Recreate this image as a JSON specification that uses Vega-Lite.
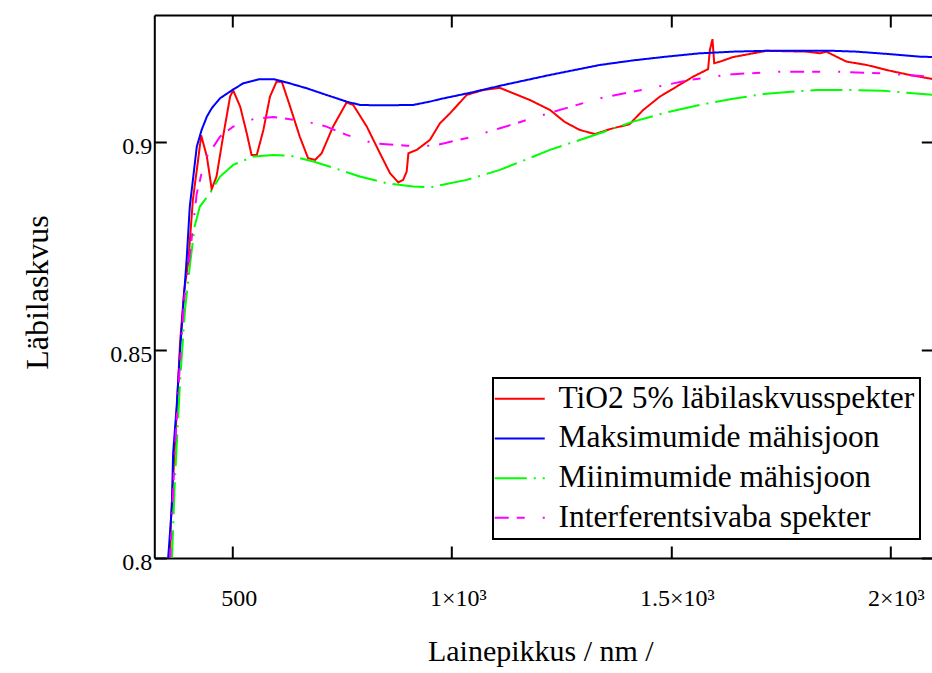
{
  "$schema": "https://vega.github.io/schema/vega-lite/v6.json",
  "width": 779,
  "height": 543,
  "autosize": {"type": "none"},
  "padding": {"left": 154.3, "top": 15, "right": 0, "bottom": 115},
  "background": "white",
  "config": {
    "view": {"stroke": null},
    "font": "Liberation Serif",
    "axis": {
      "grid": false,
      "domainColor": "black",
      "domainWidth": 2,
      "tickColor": "black",
      "tickWidth": 2,
      "tickSize": -12,
      "labelColor": "black",
      "titleColor": "black",
      "labelFont": "Liberation Serif",
      "titleFont": "Liberation Serif",
      "labelFontSize": 24,
      "titleFontWeight": "normal",
      "labelFlush": false,
      "labelOverlap": false
    }
  },
  "data": {
    "values": [
      {"series": "TiO2 5% läbilaskvusspekter", "wl": 357, "T": 0.799},
      {"series": "TiO2 5% läbilaskvusspekter", "wl": 359, "T": 0.809},
      {"series": "TiO2 5% läbilaskvusspekter", "wl": 371, "T": 0.833},
      {"series": "TiO2 5% läbilaskvusspekter", "wl": 380, "T": 0.852},
      {"series": "TiO2 5% läbilaskvusspekter", "wl": 389, "T": 0.864},
      {"series": "TiO2 5% läbilaskvusspekter", "wl": 399, "T": 0.8716},
      {"series": "TiO2 5% läbilaskvusspekter", "wl": 409, "T": 0.886},
      {"series": "TiO2 5% läbilaskvusspekter", "wl": 421, "T": 0.8956},
      {"series": "TiO2 5% läbilaskvusspekter", "wl": 428, "T": 0.9015},
      {"series": "TiO2 5% läbilaskvusspekter", "wl": 441, "T": 0.8964},
      {"series": "TiO2 5% läbilaskvusspekter", "wl": 452, "T": 0.8886},
      {"series": "TiO2 5% läbilaskvusspekter", "wl": 463, "T": 0.8916},
      {"series": "TiO2 5% läbilaskvusspekter", "wl": 478, "T": 0.9012},
      {"series": "TiO2 5% läbilaskvusspekter", "wl": 494, "T": 0.9108},
      {"series": "TiO2 5% läbilaskvusspekter", "wl": 501, "T": 0.9123},
      {"series": "TiO2 5% läbilaskvusspekter", "wl": 517, "T": 0.9084},
      {"series": "TiO2 5% läbilaskvusspekter", "wl": 532, "T": 0.902},
      {"series": "TiO2 5% läbilaskvusspekter", "wl": 543, "T": 0.8968},
      {"series": "TiO2 5% läbilaskvusspekter", "wl": 555, "T": 0.8968},
      {"series": "TiO2 5% läbilaskvusspekter", "wl": 570, "T": 0.9028},
      {"series": "TiO2 5% läbilaskvusspekter", "wl": 585, "T": 0.9108},
      {"series": "TiO2 5% läbilaskvusspekter", "wl": 600, "T": 0.9144},
      {"series": "TiO2 5% läbilaskvusspekter", "wl": 612, "T": 0.9144},
      {"series": "TiO2 5% läbilaskvusspekter", "wl": 631, "T": 0.9084},
      {"series": "TiO2 5% läbilaskvusspekter", "wl": 653, "T": 0.9012},
      {"series": "TiO2 5% läbilaskvusspekter", "wl": 672, "T": 0.896},
      {"series": "TiO2 5% läbilaskvusspekter", "wl": 688, "T": 0.8956},
      {"series": "TiO2 5% läbilaskvusspekter", "wl": 703, "T": 0.8972},
      {"series": "TiO2 5% läbilaskvusspekter", "wl": 729, "T": 0.9036},
      {"series": "TiO2 5% läbilaskvusspekter", "wl": 760, "T": 0.9094},
      {"series": "TiO2 5% läbilaskvusspekter", "wl": 775, "T": 0.9088},
      {"series": "TiO2 5% läbilaskvusspekter", "wl": 806, "T": 0.9036},
      {"series": "TiO2 5% läbilaskvusspekter", "wl": 836, "T": 0.8972},
      {"series": "TiO2 5% läbilaskvusspekter", "wl": 859, "T": 0.8924},
      {"series": "TiO2 5% läbilaskvusspekter", "wl": 878, "T": 0.8902},
      {"series": "TiO2 5% läbilaskvusspekter", "wl": 889, "T": 0.8908},
      {"series": "TiO2 5% läbilaskvusspekter", "wl": 897, "T": 0.8928},
      {"series": "TiO2 5% läbilaskvusspekter", "wl": 901, "T": 0.8972},
      {"series": "TiO2 5% läbilaskvusspekter", "wl": 920, "T": 0.898},
      {"series": "TiO2 5% läbilaskvusspekter", "wl": 950, "T": 0.9004},
      {"series": "TiO2 5% läbilaskvusspekter", "wl": 973, "T": 0.9044},
      {"series": "TiO2 5% läbilaskvusspekter", "wl": 996, "T": 0.9068},
      {"series": "TiO2 5% läbilaskvusspekter", "wl": 1034, "T": 0.9112},
      {"series": "TiO2 5% läbilaskvusspekter", "wl": 1072, "T": 0.9124},
      {"series": "TiO2 5% läbilaskvusspekter", "wl": 1110, "T": 0.9129},
      {"series": "TiO2 5% läbilaskvusspekter", "wl": 1133, "T": 0.9119},
      {"series": "TiO2 5% läbilaskvusspekter", "wl": 1178, "T": 0.91},
      {"series": "TiO2 5% läbilaskvusspekter", "wl": 1224, "T": 0.9076},
      {"series": "TiO2 5% läbilaskvusspekter", "wl": 1258, "T": 0.9047},
      {"series": "TiO2 5% läbilaskvusspekter", "wl": 1292, "T": 0.9028},
      {"series": "TiO2 5% läbilaskvusspekter", "wl": 1327, "T": 0.9018},
      {"series": "TiO2 5% läbilaskvusspekter", "wl": 1361, "T": 0.903},
      {"series": "TiO2 5% läbilaskvusspekter", "wl": 1406, "T": 0.9042},
      {"series": "TiO2 5% läbilaskvusspekter", "wl": 1437, "T": 0.9076},
      {"series": "TiO2 5% läbilaskvusspekter", "wl": 1475, "T": 0.9108},
      {"series": "TiO2 5% läbilaskvusspekter", "wl": 1513, "T": 0.9132},
      {"series": "TiO2 5% läbilaskvusspekter", "wl": 1551, "T": 0.9156},
      {"series": "TiO2 5% läbilaskvusspekter", "wl": 1585, "T": 0.9174},
      {"series": "TiO2 5% läbilaskvusspekter", "wl": 1589, "T": 0.922},
      {"series": "TiO2 5% läbilaskvusspekter", "wl": 1595, "T": 0.9246},
      {"series": "TiO2 5% läbilaskvusspekter", "wl": 1599, "T": 0.9188},
      {"series": "TiO2 5% läbilaskvusspekter", "wl": 1612, "T": 0.9192},
      {"series": "TiO2 5% läbilaskvusspekter", "wl": 1642, "T": 0.9203},
      {"series": "TiO2 5% läbilaskvusspekter", "wl": 1688, "T": 0.9212},
      {"series": "TiO2 5% läbilaskvusspekter", "wl": 1718, "T": 0.9218},
      {"series": "TiO2 5% läbilaskvusspekter", "wl": 1810, "T": 0.9216},
      {"series": "TiO2 5% läbilaskvusspekter", "wl": 1840, "T": 0.9212},
      {"series": "TiO2 5% läbilaskvusspekter", "wl": 1855, "T": 0.9216},
      {"series": "TiO2 5% läbilaskvusspekter", "wl": 1870, "T": 0.9208},
      {"series": "TiO2 5% läbilaskvusspekter", "wl": 1901, "T": 0.9192},
      {"series": "TiO2 5% läbilaskvusspekter", "wl": 1947, "T": 0.9184},
      {"series": "TiO2 5% läbilaskvusspekter", "wl": 1992, "T": 0.9172},
      {"series": "TiO2 5% läbilaskvusspekter", "wl": 2045, "T": 0.916},
      {"series": "TiO2 5% läbilaskvusspekter", "wl": 2099, "T": 0.915},

      {"series": "Maksimumide mähisjoon", "wl": 352, "T": 0.799},
      {"series": "Maksimumide mähisjoon", "wl": 361, "T": 0.8123},
      {"series": "Maksimumide mähisjoon", "wl": 364, "T": 0.8252},
      {"series": "Maksimumide mähisjoon", "wl": 372, "T": 0.8363},
      {"series": "Maksimumide mähisjoon", "wl": 380, "T": 0.85},
      {"series": "Maksimumide mähisjoon", "wl": 387, "T": 0.8604},
      {"series": "Maksimumide mähisjoon", "wl": 395, "T": 0.872},
      {"series": "Maksimumide mähisjoon", "wl": 402, "T": 0.8844},
      {"series": "Maksimumide mähisjoon", "wl": 410, "T": 0.8916},
      {"series": "Maksimumide mähisjoon", "wl": 418, "T": 0.8988},
      {"series": "Maksimumide mähisjoon", "wl": 429, "T": 0.9028},
      {"series": "Maksimumide mähisjoon", "wl": 441, "T": 0.906},
      {"series": "Maksimumide mähisjoon", "wl": 452, "T": 0.908},
      {"series": "Maksimumide mähisjoon", "wl": 471, "T": 0.9104},
      {"series": "Maksimumide mähisjoon", "wl": 498, "T": 0.9123},
      {"series": "Maksimumide mähisjoon", "wl": 524, "T": 0.914},
      {"series": "Maksimumide mähisjoon", "wl": 562, "T": 0.915},
      {"series": "Maksimumide mähisjoon", "wl": 593, "T": 0.915},
      {"series": "Maksimumide mähisjoon", "wl": 623, "T": 0.9142},
      {"series": "Maksimumide mähisjoon", "wl": 669, "T": 0.9128},
      {"series": "Maksimumide mähisjoon", "wl": 714, "T": 0.9112},
      {"series": "Maksimumide mähisjoon", "wl": 760, "T": 0.9096},
      {"series": "Maksimumide mähisjoon", "wl": 790, "T": 0.9088},
      {"series": "Maksimumide mähisjoon", "wl": 836, "T": 0.9087},
      {"series": "Maksimumide mähisjoon", "wl": 912, "T": 0.9088},
      {"series": "Maksimumide mähisjoon", "wl": 950, "T": 0.9096},
      {"series": "Maksimumide mähisjoon", "wl": 973, "T": 0.9102},
      {"series": "Maksimumide mähisjoon", "wl": 1041, "T": 0.9117},
      {"series": "Maksimumide mähisjoon", "wl": 1110, "T": 0.9134},
      {"series": "Maksimumide mähisjoon", "wl": 1224, "T": 0.916},
      {"series": "Maksimumide mähisjoon", "wl": 1338, "T": 0.9184},
      {"series": "Maksimumide mähisjoon", "wl": 1414, "T": 0.9195},
      {"series": "Maksimumide mähisjoon", "wl": 1490, "T": 0.9204},
      {"series": "Maksimumide mähisjoon", "wl": 1566, "T": 0.9212},
      {"series": "Maksimumide mähisjoon", "wl": 1642, "T": 0.9216},
      {"series": "Maksimumide mähisjoon", "wl": 1718, "T": 0.9218},
      {"series": "Maksimumide mähisjoon", "wl": 1870, "T": 0.9218},
      {"series": "Maksimumide mähisjoon", "wl": 1924, "T": 0.9216},
      {"series": "Maksimumide mähisjoon", "wl": 2000, "T": 0.921},
      {"series": "Maksimumide mähisjoon", "wl": 2068, "T": 0.9204},
      {"series": "Maksimumide mähisjoon", "wl": 2099, "T": 0.9203},

      {"series": "Miinimumide mähisjoon", "wl": 361, "T": 0.799},
      {"series": "Miinimumide mähisjoon", "wl": 368, "T": 0.8187},
      {"series": "Miinimumide mähisjoon", "wl": 380, "T": 0.8428},
      {"series": "Miinimumide mähisjoon", "wl": 391, "T": 0.8596},
      {"series": "Miinimumide mähisjoon", "wl": 402, "T": 0.87},
      {"series": "Miinimumide mähisjoon", "wl": 413, "T": 0.8796},
      {"series": "Miinimumide mähisjoon", "wl": 425, "T": 0.8844},
      {"series": "Miinimumide mähisjoon", "wl": 448, "T": 0.8876},
      {"series": "Miinimumide mähisjoon", "wl": 471, "T": 0.8916},
      {"series": "Miinimumide mähisjoon", "wl": 501, "T": 0.8944},
      {"series": "Miinimumide mähisjoon", "wl": 547, "T": 0.8964},
      {"series": "Miinimumide mähisjoon", "wl": 593, "T": 0.8968},
      {"series": "Miinimumide mähisjoon", "wl": 631, "T": 0.8966},
      {"series": "Miinimumide mähisjoon", "wl": 684, "T": 0.8952},
      {"series": "Miinimumide mähisjoon", "wl": 745, "T": 0.8932},
      {"series": "Miinimumide mähisjoon", "wl": 790, "T": 0.8916},
      {"series": "Miinimumide mähisjoon", "wl": 851, "T": 0.89},
      {"series": "Miinimumide mähisjoon", "wl": 912, "T": 0.8892},
      {"series": "Miinimumide mähisjoon", "wl": 950, "T": 0.889},
      {"series": "Miinimumide mähisjoon", "wl": 1034, "T": 0.8908},
      {"series": "Miinimumide mähisjoon", "wl": 1110, "T": 0.8932},
      {"series": "Miinimumide mähisjoon", "wl": 1224, "T": 0.898},
      {"series": "Miinimumide mähisjoon", "wl": 1338, "T": 0.902},
      {"series": "Miinimumide mähisjoon", "wl": 1414, "T": 0.9048},
      {"series": "Miinimumide mähisjoon", "wl": 1490, "T": 0.907},
      {"series": "Miinimumide mähisjoon", "wl": 1566, "T": 0.9088},
      {"series": "Miinimumide mähisjoon", "wl": 1642, "T": 0.9103},
      {"series": "Miinimumide mähisjoon", "wl": 1718, "T": 0.9115},
      {"series": "Miinimumide mähisjoon", "wl": 1832, "T": 0.9124},
      {"series": "Miinimumide mähisjoon", "wl": 1909, "T": 0.9124},
      {"series": "Miinimumide mähisjoon", "wl": 1985, "T": 0.9122},
      {"series": "Miinimumide mähisjoon", "wl": 2099, "T": 0.9112},

      {"series": "Interferentsivaba spekter", "wl": 357, "T": 0.799},
      {"series": "Interferentsivaba spekter", "wl": 368, "T": 0.826},
      {"series": "Interferentsivaba spekter", "wl": 380, "T": 0.8476},
      {"series": "Interferentsivaba spekter", "wl": 389, "T": 0.862},
      {"series": "Interferentsivaba spekter", "wl": 399, "T": 0.87},
      {"series": "Interferentsivaba spekter", "wl": 418, "T": 0.8876},
      {"series": "Interferentsivaba spekter", "wl": 429, "T": 0.8924},
      {"series": "Interferentsivaba spekter", "wl": 441, "T": 0.8964},
      {"series": "Interferentsivaba spekter", "wl": 471, "T": 0.9012},
      {"series": "Interferentsivaba spekter", "wl": 501, "T": 0.9036},
      {"series": "Interferentsivaba spekter", "wl": 547, "T": 0.9054},
      {"series": "Interferentsivaba spekter", "wl": 593, "T": 0.9059},
      {"series": "Interferentsivaba spekter", "wl": 615, "T": 0.9056},
      {"series": "Interferentsivaba spekter", "wl": 669, "T": 0.9048},
      {"series": "Interferentsivaba spekter", "wl": 714, "T": 0.9036},
      {"series": "Interferentsivaba spekter", "wl": 760, "T": 0.9016},
      {"series": "Interferentsivaba spekter", "wl": 821, "T": 0.8996},
      {"series": "Interferentsivaba spekter", "wl": 897, "T": 0.899},
      {"series": "Interferentsivaba spekter", "wl": 958, "T": 0.899},
      {"series": "Interferentsivaba spekter", "wl": 1041, "T": 0.901},
      {"series": "Interferentsivaba spekter", "wl": 1110, "T": 0.9032},
      {"series": "Interferentsivaba spekter", "wl": 1224, "T": 0.9069},
      {"series": "Interferentsivaba spekter", "wl": 1338, "T": 0.9104},
      {"series": "Interferentsivaba spekter", "wl": 1452, "T": 0.9128},
      {"series": "Interferentsivaba spekter", "wl": 1543, "T": 0.9148},
      {"series": "Interferentsivaba spekter", "wl": 1642, "T": 0.9162},
      {"series": "Interferentsivaba spekter", "wl": 1756, "T": 0.9168},
      {"series": "Interferentsivaba spekter", "wl": 1870, "T": 0.9168},
      {"series": "Interferentsivaba spekter", "wl": 1985, "T": 0.9164},
      {"series": "Interferentsivaba spekter", "wl": 2099, "T": 0.9155}
    ]
  },
  "layer": [
    {
      "mark": {"type": "line", "strokeWidth": 2, "clip": true},
      "encoding": {
        "x": {
          "field": "wl", "type": "quantitative",
          "scale": {"domain": [321, 2099], "nice": false, "zero": false},
          "axis": {
            "orient": "bottom",
            "values": [500, 1000, 1500, 2000],
            "labelExpr": "datum.value == 500 ? '500' : datum.value == 1000 ? '1×10³' : datum.value == 1500 ? '1.5×10³' : '2×10³'",
            "labelPadding": 60,
            "labelBaseline": "alphabetic",
            "labelOffset": 6,
            "title": "Lainepikkus / nm /",
            "titleFontSize": 30,
            "titleX": 386,
            "titleY": 103,
            "titleAlign": "center",
            "titleBaseline": "alphabetic"
          }
        },
        "y": {
          "field": "T", "type": "quantitative",
          "scale": {"domain": [0.8, 0.9304], "nice": false, "zero": false},
          "axis": {
            "orient": "left",
            "values": [0.8, 0.85, 0.9],
            "format": ".2~f",
            "labelPadding": 14.6,
            "labelOffset": 5,
            "labelBaseline": "middle",
            "title": "Läbilaskvus",
            "titleFontSize": 32,
            "titleX": -107,
            "titleY": 277,
            "titleAngle": -90,
            "titleAlign": "center",
            "titleBaseline": "alphabetic"
          }
        },
        "color": {
          "field": "series", "type": "nominal",
          "scale": {
            "domain": ["TiO2 5% läbilaskvusspekter", "Maksimumide mähisjoon", "Miinimumide mähisjoon", "Interferentsivaba spekter"],
            "range": ["#ff0000", "#0000ff", "#00ff00", "#ff00ff"]
          },
          "legend": {
            "title": null, "orient": "none", "legendX": 338.7, "legendY": 363,
            "direction": "vertical",
            "symbolType": "M-1.9,0H3.1", "symbolSize": 400, "symbolStrokeWidth": 2,
            "labelFont": "Liberation Serif", "labelFontSize": 31.5, "labelColor": "black",
            "labelOffset": 29, "labelLimit": 0, "rowPadding": 6.7, "padding": 5,
            "strokeColor": "black", "fillColor": "white",
            "encode": {"legend": {"update": {"strokeWidth": {"value": 2}}}}
          }
        },
        "strokeDash": {
          "field": "series", "type": "nominal",
          "scale": {
            "domain": ["TiO2 5% läbilaskvusspekter", "Maksimumide mähisjoon", "Miinimumide mähisjoon", "Interferentsivaba spekter"],
            "range": [[1, 0], [1, 0], [32, 7, 2, 7], [14, 8, 8, 18, 2, 10]]
          },
          "legend": {
            "title": null, "orient": "none", "legendX": 338.7, "legendY": 363,
            "direction": "vertical",
            "symbolType": "M-1.9,0H3.1", "symbolSize": 400, "symbolStrokeWidth": 2,
            "labelFont": "Liberation Serif", "labelFontSize": 31.5, "labelColor": "black",
            "labelOffset": 29, "labelLimit": 0, "rowPadding": 6.7, "padding": 5,
            "strokeColor": "black", "fillColor": "white",
            "encode": {"legend": {"update": {"strokeWidth": {"value": 2}}}}
          }
        }
      }
    },
    {
      "mark": {"type": "point", "opacity": 0},
      "encoding": {
        "x": {
          "field": "wl", "type": "quantitative",
          "axis": {"orient": "top", "values": [500, 1000, 1500, 2000], "labels": false, "title": null}
        },
        "y": {
          "field": "T", "type": "quantitative",
          "axis": {"orient": "right", "values": [0.8, 0.85, 0.9], "labels": false, "title": null}
        }
      }
    }
  ],
  "resolve": {"axis": {"x": "independent", "y": "independent"}}
}
